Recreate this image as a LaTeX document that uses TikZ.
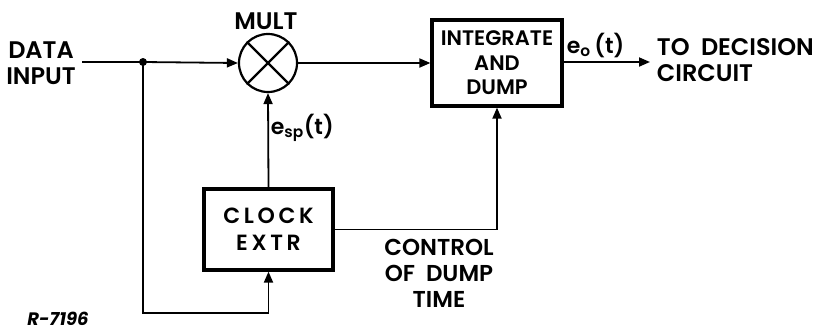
\documentclass[tikz,border=0pt]{standalone}
\usepackage{fontspec}
\setmainfont{Poppins}[BoldFont={Poppins SemiBold},BoldItalicFont={Poppins Bold Italic}]
\usetikzlibrary{arrows.meta}
\begin{document}
\begin{tikzpicture}[x=1pt,y=-1pt,
  line width=1.8pt,
  arr/.style={-{Triangle[length=11pt,width=9pt]}},
  blockbox/.style={draw,line width=3.2pt,inner sep=0pt,align=center},
  lbl/.style={inner sep=0pt,align=center,font=\fontsize{24}{26}\selectfont\bfseries},
  lbll/.style={inner sep=0pt,align=left,font=\fontsize{24}{26}\selectfont\bfseries},
]
\useasboundingbox (0,0) rectangle (817,333);
% nodes
\node[circle,draw,line width=2.2pt,minimum size=58pt,inner sep=0pt] (mult) at (268,63) {};
\draw[line width=2.2pt] (mult.north east) -- (mult.south west) (mult.north west) -- (mult.south east);
\node[blockbox,minimum width=130pt,minimum height=86pt,lbl,font=\fontsize{21}{24.5}\selectfont\bfseries] (integ) at (497,63) {INTEGRATE\\AND\\DUMP};
\node[blockbox,minimum width=129pt,minimum height=81pt,lbl,font=\fontsize{22}{27}\selectfont\bfseries] (clock) at (268.5,229.5) {C\,L\,O\,C\,K\\E\,X\,T\,R};
\node[lbl] (din) at (41,63) {DATA\\INPUT};
\node[lbl] (multl) at (266,21) {MULT};
\node[lbll,anchor=west] (dec) at (656,60) {TO\ \ DECISION\\CIRCUIT};
\node[lbl,font=\fontsize{23}{26}\selectfont\bfseries] (ctrl) at (439,273) {CONTROL\\OF\ \ DUMP\\TIME};
\node[inner sep=0pt,font=\fontsize{18}{20}\selectfont\itshape\bfseries] (rnum) at (58,319) {R-7196};
\node[inner sep=0pt,anchor=west,font=\fontsize{22}{22}\selectfont\bfseries] (esp) at (270,128) {e\textsubscript{sp}(t)};
\node[inner sep=0pt,anchor=west,font=\fontsize{22}{22}\selectfont\bfseries] (eo) at (566,45) {e\textsubscript{o}\,(t)};
% coordinates
\coordinate (start) at (82,62);
\coordinate (junc) at (143,62);
\coordinate (outend) at (650,62);
\coordinate (bl) at (143,313);
% connectors
\draw (start) -- (junc);
\draw[arr] (junc) -- (mult.west);
\draw[arr] (mult.east) -- (integ.west |- mult.east);
\draw[arr] (integ.east |- outend) -- (outend);
\draw[arr] (clock.north) -- (mult.south);
\draw[arr] (clock.east) -| (integ.south);
\draw[arr] (junc) -- (bl) -| (clock.south);
\fill (junc) circle (4pt);
\end{tikzpicture}
\end{document}
